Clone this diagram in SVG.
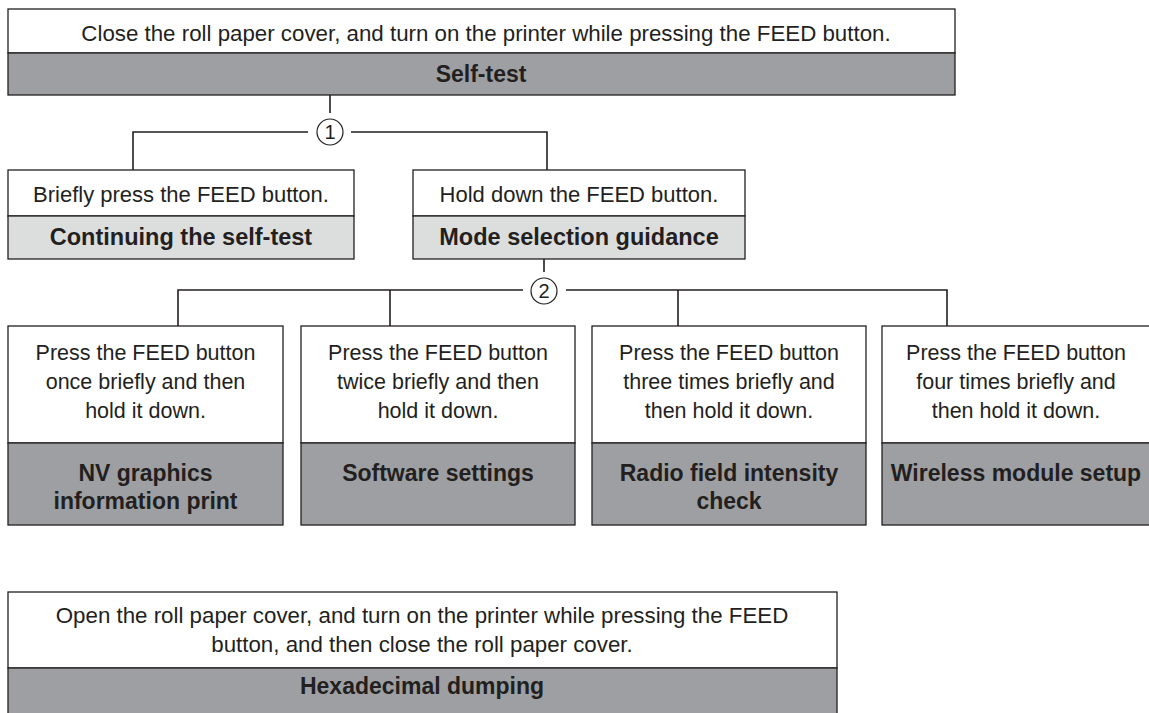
<svg xmlns="http://www.w3.org/2000/svg" width="1149" height="713" viewBox="0 0 1149 713">
<style>
.box{fill:#ffffff;stroke:#231f20;stroke-width:1.3}
.dark{fill:#9d9fa2;stroke:#231f20;stroke-width:1.3}
.light{fill:#dcdddd;stroke:#231f20;stroke-width:1.3}
.t{font-family:"Liberation Sans",Arial,sans-serif;font-size:21.5px;fill:#231f20;text-anchor:middle}
.t2{font-size:22px}
.t3{font-size:22.3px}
.b{font-family:"Liberation Sans",Arial,sans-serif;font-size:23px;font-weight:bold;fill:#231f20;text-anchor:middle}
.b2{font-size:23.5px}
.c{fill:#ffffff;stroke:#231f20;stroke-width:1.2}
.n{font-family:"Liberation Sans",Arial,sans-serif;font-size:20px;fill:#231f20;text-anchor:middle}
.ln{fill:none;stroke:#231f20;stroke-width:1.6}
</style>
<rect width="1149" height="713" fill="#ffffff"/>
<g id="connectors">
<path class="ln" d="M330 95V113"/>
<path class="ln" d="M308 132H133V170"/>
<path class="ln" d="M351 132H547V170"/>
<path class="ln" d="M544 259V272"/>
<path class="ln" d="M523 290H178V326M390 290V326"/>
<path class="ln" d="M566 290H947V326M678 290V326"/>
<circle class="c" cx="330" cy="132" r="13"/>
<text class="n" x="330" y="139">1</text>
<circle class="c" cx="544" cy="291" r="13"/>
<text class="n" x="544" y="298">2</text>
</g>
<g id="self-test">
<rect class="box" x="8" y="9" width="947" height="44"/>
<rect class="dark" x="8" y="53" width="947" height="42"/>
<text class="t t3" x="486" y="41">Close the roll paper cover, and turn on the printer while pressing the FEED button.</text>
<text class="b" x="481" y="82">Self-test</text>
</g>
<g id="continuing">
<rect class="box" x="8" y="170" width="346" height="46"/>
<rect class="light" x="8" y="216" width="346" height="43"/>
<text class="t t2" x="181" y="202">Briefly press the FEED button.</text>
<text class="b b2" x="181" y="245">Continuing the self-test</text>
</g>
<g id="mode-selection">
<rect class="box" x="413" y="170" width="332" height="46"/>
<rect class="light" x="413" y="216" width="332" height="43"/>
<text class="t t2" x="579" y="202">Hold down the FEED button.</text>
<text class="b b2" x="579" y="245">Mode selection guidance</text>
</g>
<g id="nv-graphics">
<rect class="box" x="8" y="326" width="275" height="117"/>
<rect class="dark" x="8" y="443" width="275" height="82"/>
<text class="t" x="145.5" y="360">Press the FEED button</text>
<text class="t" x="145.5" y="389">once briefly and then</text>
<text class="t" x="145.5" y="418">hold it down.</text>
<text class="b" x="145.5" y="481">NV graphics</text>
<text class="b" x="145.5" y="509">information print</text>
</g>
<g id="software-settings">
<rect class="box" x="301" y="326" width="274" height="117"/>
<rect class="dark" x="301" y="443" width="274" height="82"/>
<text class="t" x="438" y="360">Press the FEED button</text>
<text class="t" x="438" y="389">twice briefly and then</text>
<text class="t" x="438" y="418">hold it down.</text>
<text class="b" x="438" y="481">Software settings</text>
</g>
<g id="radio-field">
<rect class="box" x="592" y="326" width="274" height="117"/>
<rect class="dark" x="592" y="443" width="274" height="82"/>
<text class="t" x="729" y="360">Press the FEED button</text>
<text class="t" x="729" y="389">three times briefly and</text>
<text class="t" x="729" y="418">then hold it down.</text>
<text class="b" x="729" y="481">Radio field intensity</text>
<text class="b" x="729" y="509">check</text>
</g>
<g id="wireless">
<rect class="box" x="882" y="326" width="274" height="117"/>
<rect class="dark" x="882" y="443" width="274" height="82"/>
<text class="t" x="1016" y="360">Press the FEED button</text>
<text class="t" x="1016" y="389">four times briefly and</text>
<text class="t" x="1016" y="418">then hold it down.</text>
<text class="b" x="1016" y="481">Wireless module setup</text>
</g>
<g id="hex-dump">
<rect class="box" x="8" y="592" width="829" height="76"/>
<rect class="dark" x="8" y="668" width="829" height="47"/>
<text class="t t3" x="422" y="623">Open the roll paper cover, and turn on the printer while pressing the FEED</text>
<text class="t t3" x="422" y="652">button, and then close the roll paper cover.</text>
<text class="b" x="422" y="694">Hexadecimal dumping</text>
</g>
</svg>
